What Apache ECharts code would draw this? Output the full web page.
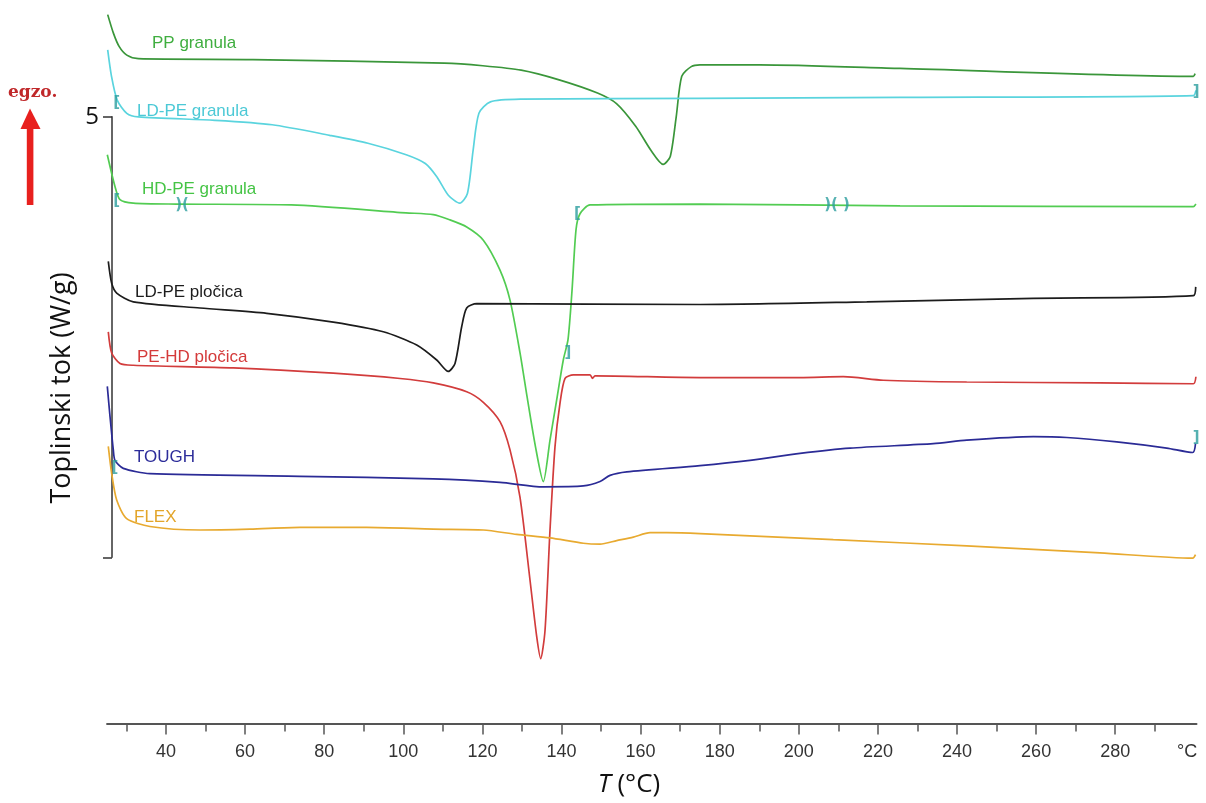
<!DOCTYPE html>
<html><head><meta charset="utf-8">
<script src="https://cdn.jsdelivr.net/npm/echarts@6/dist/echarts.min.js"></script>
<style>html,body{margin:0;padding:0;background:#fff}#c{width:1206px;height:803px}</style>
</head><body><div id="c"></div>
<script>
// DSC curves: [T (°C), heat flow (W/g, offset stack)]
const ppGranula = [[25.26,6.16],[26.7,5.95],[28.14,5.80],[30.09,5.70],[33.0,5.66],[62.0,5.65],[110.4,5.61],[120.1,5.58],[129.8,5.53],[139.4,5.42],[149.1,5.27],[153.9,5.15],[158.8,4.89],[162.6,4.62],[165.7,4.46],[167.5,4.55],[169.0,5.00],[170.4,5.46],[172.8,5.57],[175.0,5.59],[190.0,5.59],[225.6,5.55],[299.75,5.46],[300.2,5.49]];
const ldpeGranula = [[25.26,5.76],[26.22,5.46],[27.66,5.19],[30.09,5.04],[33.0,5.00],[52.34,4.96],[66.85,4.91],[81.37,4.79],[91.05,4.70],[100.73,4.57],[105.56,4.47],[108.47,4.32],[111.38,4.11],[114.26,4.02],[116.21,4.13],[117.65,4.62],[119.12,5.04],[122.02,5.17],[129.76,5.20],[175.02,5.21],[225.6,5.22],[299.75,5.24],[300.4,5.30]];
const hdpeGranula = [[25.16,4.57],[27.1,4.21],[28.37,4.06],[31.73,4.02],[42.65,4.01],[71.71,4.00],[100.68,3.91],[107.59,3.89],[111.8,3.83],[116.03,3.75],[120.23,3.60],[124.45,3.26],[126.98,2.92],[129.51,2.32],[131.3,1.82],[133.4,1.26],[135.4,0.86],[137.09,1.33],[138.79,1.79],[140.45,2.24],[141.64,2.47],[142.66,3.03],[143.67,3.72],[144.68,3.90],[147.21,4.00],[175.02,4.01],[225.6,3.99],[299.75,3.98],[300.4,4.01]];
const ldpePlocica = [[25.41,3.36],[26.27,3.11],[27.53,3.00],[31.73,2.90],[48.60,2.83],[65.46,2.77],[82.30,2.67],[94.94,2.56],[103.39,2.41],[108.45,2.24],[111.38,2.11],[113.07,2.20],[114.77,2.62],[116.03,2.83],[118.56,2.88],[175.02,2.87],[217.17,2.90],[259.29,2.94],[299.75,2.97],[300.35,3.07]];
const pehdPlocica = [[25.41,2.56],[26.27,2.32],[28.37,2.20],[31.73,2.18],[57.02,2.15],[82.30,2.09],[99.17,2.03],[107.59,1.98],[116.03,1.88],[120.23,1.76],[124.45,1.54],[126.98,1.22],[129.51,0.68],[132.04,-0.26],[133.73,-0.90],[134.74,-1.15],[135.83,-0.83],[137.09,0.31],[138.36,1.26],[139.62,1.75],[140.89,2.03],[142.98,2.07],[147.21,2.07],[147.84,2.03],[148.47,2.06],[175.02,2.04],[200.30,2.04],[211.25,2.05],[221.37,2.01],[242.45,1.99],[276.16,1.98],[299.75,1.97],[300.4,2.05]];
const tough = [[25.16,1.94],[25.84,1.60],[26.68,1.22],[27.10,1.10],[29.20,1.01],[35.95,0.95],[73.88,0.92],[107.59,0.89],[124.45,0.85],[135.40,0.80],[145.51,0.81],[149.74,0.86],[152.26,0.93],[156.49,0.97],[175.02,1.04],[187.66,1.10],[200.30,1.18],[212.95,1.24],[234.01,1.29],[242.45,1.33],[259.29,1.37],[267.74,1.36],[280.38,1.31],[293.02,1.24],[299.6,1.19],[300.3,1.29]];
const flex = [[25.41,1.26],[26.27,0.95],[27.53,0.65],[30.06,0.44],[35.95,0.35],[48.60,0.31],[61.24,0.32],[73.88,0.34],[90.75,0.34],[107.59,0.32],[120.23,0.31],[128.67,0.26],[137.09,0.22],[145.51,0.16],[149.74,0.15],[153.96,0.19],[158.16,0.23],[162.38,0.28],[166.60,0.28],[175.02,0.27],[208.72,0.20],[242.45,0.13],[276.16,0.05],[299.6,-0.01],[300.3,0.03]];

const seriesNames = ['PP granula','LD-PE granula','HD-PE granula','LD-PE pločica','PE-HD pločica','TOUGH','FLEX'];
const seriesData = [ppGranula, ldpeGranula, hdpeGranula, ldpePlocica, pehdPlocica, tough, flex];

// integration limit marks [T, W/g, glyph]
const limitMarks = [[27.53,5.16,'['],[27.53,4.04,'['],[44.05,4.00,')('],[144.0,3.90,'['],[209.66,4.00,')( )'],[141.64,2.32,']'],[300.5,5.28,']'],[300.5,1.35,']'],[27.1,1.01,'[']];

const majorTicks = [40,60,80,100,120,140,160,180,200,220,240,260,280];
const minorTicks = [30,50,70,90,110,130,150,170,190,210,230,250,270,290];
const tickLabelValues = [40,60,80,100,120,140,160,180,200,220,240,260,280,298.2];
const unitLabel = '°C';
const scaleBarTicks = [0,5];

const lineColors = ['#3a963a','#5ad4de','#52cc52','#1c1c1c','#d23c3c','#2b2b96','#e8aa30'];
const labelColors = ['#3fae3f','#4cc9d6','#45c445','#1c1c1c','#d43a3a','#2d2d9a','#e3a52a'];
const labelPos = [[152,43],[137,111],[142,189],[135,292],[137,357],[134,457],[134,517]];

const chart = echarts.init(document.getElementById('c'), null, {renderer:'canvas'});

const series = seriesData.map((d,i) => ({
  name: seriesNames[i], type:'line', data:d, xAxisIndex:0, yAxisIndex:0,
  showSymbol:false, smooth:0.25, lineStyle:{color:lineColors[i], width:1.7}, z:2+i
}));
series.push({
  type:'scatter', xAxisIndex:0, yAxisIndex:0, data:limitMarks, symbol:'rect', symbolSize:1,
  itemStyle:{color:'rgba(0,0,0,0)'}, z:20,
  label:{show:true, position:'inside', formatter:p=>p.data[2], color:'#2a9d9d', fontSize:15, fontWeight:'bold', fontFamily:'DejaVu Sans'}
});

const graphics = labelPos.map((p,i)=>({
  type:'text', x:p[0], y:p[1], z:50,
  style:{text:seriesNames[i], fill:labelColors[i], fontSize:17, fontFamily:'Liberation Sans', verticalAlign:'middle', align:'left'}
}));
graphics.push(
  {type:'rect', shape:{x:26.8, y:126, width:6.6, height:79}, style:{fill:'#e8201e'}, z:50},
  {type:'polygon', shape:{points:[[20.5,129],[30,108.5],[40.5,129]]}, style:{fill:'#e8201e'}, z:50},
  {type:'text', x:8, y:93, style:{text:'egzo.', fill:'#c0282a', fontSize:17, fontWeight:'bold', fontFamily:'DejaVu Serif', verticalAlign:'middle'}, z:50},
  {type:'text', x:62, y:388, rotation:Math.PI/2, style:{text:'Toplinski tok (W/g)', fill:'#111', fontSize:27, fontFamily:'Open Sans', align:'center', verticalAlign:'middle'}, z:50},
  {type:'text', x:629, y:785, style:{text:'{i|T} (°C)', fill:'#111', fontSize:26, fontFamily:'Open Sans', align:'center', verticalAlign:'middle',
     rich:{i:{fontStyle:'italic', fontSize:26, fontFamily:'Open Sans', fill:'#111'}}}, z:50}
);

chart.setOption({
  animation:false,
  backgroundColor:'#fff',
  grid:[
    {left:107.07, right:9.5, top:6.7, bottom:79.6},
    {left:112, top:116.8, width:20, height:440.5}
  ],
  xAxis:[
    {type:'value', gridIndex:0, min:25.1, max:300.55, position:'bottom',
     axisLine:{show:true, onZero:false, lineStyle:{color:'#555', width:2}},
     axisTick:{show:true, customValues:majorTicks, length:11, lineStyle:{color:'#555', width:1.5}},
     axisLabel:{show:true, customValues:tickLabelValues, margin:20, color:'#333', fontSize:18, fontFamily:'Liberation Sans',
       formatter:v=> v>290 ? unitLabel : String(v)},
     splitLine:{show:false}},
    {type:'value', gridIndex:0, min:25.1, max:300.55, position:'bottom', offset:0,
     axisLine:{show:false, onZero:false}, axisLabel:{show:false}, splitLine:{show:false},
     axisTick:{show:true, customValues:minorTicks, length:8, lineStyle:{color:'#555', width:1.5}}},
    {type:'value', gridIndex:1, min:0, max:1, show:false}
  ],
  yAxis:[
    {type:'value', gridIndex:0, min:-1.885, max:6.25, show:false},
    {type:'value', gridIndex:1, min:0, max:5, position:'left',
     axisLine:{show:true, onZero:false, lineStyle:{color:'#333', width:1.5}},
     axisTick:{show:true, customValues:scaleBarTicks, length:9, lineStyle:{color:'#333', width:1.5}},
     axisLabel:{show:true, customValues:scaleBarTicks, formatter:v=> v===5 ? '5' : '', margin:13, color:'#111', fontSize:24, fontFamily:'Open Sans'},
     splitLine:{show:false}}
  ],
  series:series,
  graphic:graphics
});
</script></body></html>
